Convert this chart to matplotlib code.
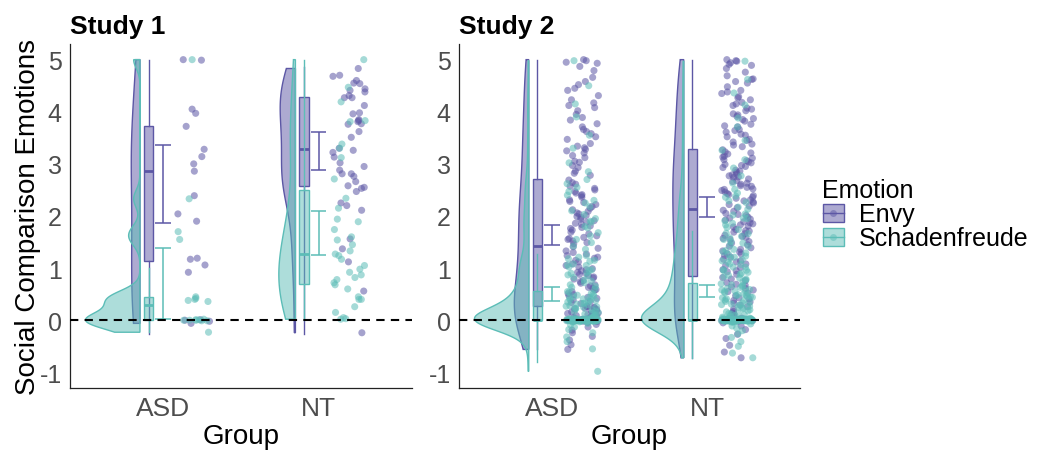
import numpy as np
import matplotlib
matplotlib.use('Agg')
import matplotlib.pyplot as plt
from matplotlib.colors import to_rgba
from matplotlib.patches import Patch
from matplotlib.lines import Line2D

plt.rcParams['font.family'] = ['Liberation Sans', 'DejaVu Sans']
plt.rcParams['axes.unicode_minus'] = False

groups = ['ASD', 'NT']
emotions = ['Envy', 'Schadenfreude']
colors = ['#5C57A5', '#5CBDB7']

#---- Study 1 raw points
s1_asd_envy = [5.0, 4.99, 3.97, 4.05, 3.72, 3.28, 3.14, 3.0, 2.86, 2.39, 2.04, 1.9,
               1.19, 1.17, 1.06, 0.92, -0.06, 0.0, -0.02, 0.01]
s1_asd_schad = [1.7, 1.55, 2.33, 0.38, 0.36, 0.4, 0.42, 0.45, 0.0, 0.01, 0.0, -0.01,
                0.02, 0.0, -0.01, 0.01, -0.23, 5.0]
s1_nt_envy = [4.83, 4.68, 4.7, 4.6, 4.54, 4.44, 4.41, 4.55, 4.38, 4.27, 4.31, 4.27,
              3.98, 3.96, 3.85, 3.77, 3.76, 3.83, 3.81, 3.51, 3.3, 3.26, 3.22, 3.13,
              3.02, 2.95, 2.88, 2.81, 2.81, 2.76, 2.58, 2.53, 2.55, 2.47, 2.66, 2.25,
              2.2, 2.11, 1.56, 1.37, 1.12, 0.56, -0.24, 4.12, 3.62]
s1_nt_schad = [4.47, 4.19, 3.81, 3.83, 3.3, 3.38, 3.12, 2.71, 2.34, 2.15, 1.94, 1.89,
               1.74, 1.6, 1.54, 1.45, 1.17, 1.27, 1.24, 0.98, 0.92, 0.87, 0.78, 0.72,
               0.82, 0.68, 0.4, 0.4, 0.45, 0.26, 0.15, 0.03, 0.02, 0.05, 5.0, 1.05,
               1.33, 0.6]

#---- Study 2 raw points (estimated, too dense to read one by one)
s2_asd_envy = [
    -0.56, -0.47, -0.38, -0.31, -0.24, -0.19, -0.13, -0.08, -0.04, -0.02,
    0.0, 0.01, -0.01, 0.02, 0.0, 0.03, -0.02, 0.01, 0.0, 0.02, -0.01, 0.0, 0.04, 0.01,
    0.07, 0.12, 0.09, 0.16, 0.21, 0.14, 0.26, 0.19, 0.23, 0.11, 0.27, 0.05, 0.18, 0.24,
    0.08, 0.22, 0.13, 0.25,
    0.32, 0.47, 0.39, 0.58, 0.66, 0.51, 0.74, 0.83, 0.61, 0.92, 0.36, 0.88, 1.02, 0.71,
    1.15, 0.97, 0.44, 1.24, 0.79, 1.08, 1.33, 0.55, 0.63, 1.19, 0.86, 1.38, 0.42, 0.95,
    1.27, 0.68, 1.05, 0.34, 1.12, 0.76, 1.41, 0.59, 0.99, 1.21, 0.81, 1.30, 0.49, 0.90,
    1.47, 1.62, 1.55, 1.78, 1.91, 1.69, 2.04, 1.84, 2.15, 1.52, 2.28, 1.97, 2.41, 1.73,
    2.09, 2.53, 1.88, 2.36, 1.59, 2.22, 2.64, 1.94, 2.47, 1.66, 2.12, 2.69, 1.81, 2.31,
    2.01, 1.49, 2.57, 2.18, 1.76, 2.44, 1.99, 2.61, 1.57, 2.26, 1.86, 2.39, 2.06, 2.50,
    2.78, 2.93, 3.05, 2.86, 3.21, 3.34, 3.12, 3.47, 2.97, 3.28, 3.58, 3.16, 3.71, 3.39,
    2.82, 3.84, 3.03, 3.62, 3.95, 3.25, 4.08, 3.52, 4.17, 3.31, 4.31, 3.77, 4.45, 3.89,
    4.58, 4.02, 4.41, 4.66, 4.23, 4.79, 4.87, 4.93, 4.98, 5.00, 4.95, 4.12, 3.66, 4.52]
s2_asd_schad = [
    -0.98, -0.55, -0.41, -0.32, -0.24, -0.18, -0.13, -0.09, -0.06, -0.03,
    0.0, 0.01, -0.01, 0.02, 0.0, -0.02, 0.03, 0.0, 0.01, -0.01, 0.0, 0.02, 0.0, -0.03, 0.01,
    0.0, 0.02, -0.01, 0.0, 0.04, 0.0, -0.02, 0.01, 0.0, 0.03, -0.01, 0.0, 0.02, 0.0, -0.02,
    0.01, 0.0, 0.03, -0.01, 0.0, 0.0, 0.01, -0.01, 0.02, 0.0, -0.02, 0.0, 0.03, 0.01, 0.0,
    -0.01, 0.02, 0.0, 0.01, -0.03, 0.0, 0.02, -0.01, 0.0, 0.01, 0.0, -0.02, 0.04, 0.0, 0.01,
    0.0, -0.01, 0.02, 0.0, 0.01, -0.02, 0.0, 0.03, 0.0, -0.01, 0.01, 0.0, 0.02, -0.01, 0.0,
    0.07, 0.12, 0.18, 0.1, 0.23, 0.28, 0.15, 0.33, 0.26, 0.38, 0.31, 0.43, 0.36, 0.47,
    0.41, 0.52, 0.45, 0.55, 0.5, 0.09, 0.2, 0.3, 0.4, 0.54, 0.14, 0.25, 0.35, 0.44,
    0.06, 0.17, 0.27, 0.39, 0.48, 0.22, 0.32,
    0.6, 0.65, 0.72, 0.68, 0.77, 0.82, 0.75, 0.87, 0.92, 0.85, 0.97, 1.02, 0.95, 1.08,
    1.13, 1.06, 1.18, 1.24, 0.63, 0.9,
    1.05, 1.21, 1.36, 1.49, 1.62, 1.77, 1.88, 2.03, 2.18, 2.47, 2.62, 1.15,
    1.42, 1.55, 1.68, 1.8, 1.95, 2.1, 2.25, 2.4, 2.55, 2.7, 2.85, 3.02, 3.3, 3.55, 3.9,
    4.15, 4.5, 2.3, 1.9, 4.98]
s2_nt_envy = [
    -0.72, -0.61, -0.48, -0.35, -0.27, -0.18, -0.11, -0.05,
    0.0, 0.01, -0.01, 0.02, 0.0, 0.03, -0.02, 0.0, 0.01, 0.04, -0.01, 0.0, 0.02, 0.0, 0.01,
    0.08, 0.17, 0.26, 0.12, 0.35, 0.43, 0.21, 0.52, 0.38, 0.61, 0.29, 0.69, 0.47, 0.76,
    0.55, 0.82, 0.33, 0.64, 0.14, 0.72, 0.58, 0.41, 0.79, 0.67,
    0.88, 0.93, 1.01, 0.97, 1.08, 1.14, 1.05, 1.21, 1.17, 1.28, 1.24, 1.33, 1.39, 1.31,
    1.45, 1.42, 1.51, 1.48, 1.57, 1.55, 1.63, 1.61, 1.69, 1.66, 1.74, 1.72, 1.79, 1.83,
    1.81, 1.87, 1.92, 1.89, 1.96, 2.01, 1.98, 2.05, 2.09, 2.03, 2.11, 1.12, 1.36, 1.59,
    1.85, 0.95, 1.27, 1.71, 1.94,
    2.16, 2.22, 2.19, 2.27, 2.31, 2.25, 2.36, 2.41, 2.34, 2.46, 2.43, 2.52, 2.49, 2.57,
    2.55, 2.61, 2.66, 2.63, 2.71, 2.68, 2.75, 2.79, 2.74, 2.84, 2.81, 2.88, 2.93, 2.86,
    2.97, 3.02, 2.95, 3.06, 3.11, 3.04, 3.15, 3.19, 3.13, 3.23, 3.27, 3.21, 2.39, 2.58,
    2.77, 2.99, 3.08, 2.29, 2.51,
    3.33, 3.38, 3.42, 3.36, 3.47, 3.52, 3.45, 3.57, 3.61, 3.55, 3.66, 3.71, 3.64, 3.76,
    3.82, 3.73, 3.87, 3.91, 3.85, 3.96, 4.02, 3.94, 4.07, 4.12, 4.05, 4.18, 4.23, 4.15,
    4.29, 4.35, 4.27, 4.41, 4.48, 4.55, 4.62, 4.58, 4.69, 4.76, 4.83, 4.89, 4.94, 4.98,
    5.0, 4.97, 4.91, 4.63, 4.38]
s2_nt_schad = [
    -0.72, -0.63, -0.5, -0.41, -0.33, -0.26, -0.2, -0.15, -0.11, -0.07, -0.04, -0.02,
    0.0, 0.01, -0.01, 0.02, 0.0, -0.02, 0.03, 0.0, 0.01, -0.01, 0.0, 0.02, 0.0, -0.03, 0.01,
    0.0, 0.02, -0.01, 0.0, 0.04, 0.0, -0.02, 0.01, 0.0, 0.03, -0.01, 0.0, 0.02, 0.0, -0.02,
    0.01, 0.0, 0.03, -0.01, 0.0, 0.0, 0.01, -0.01, 0.02, 0.0, -0.02, 0.0, 0.03, 0.01, 0.0,
    -0.01, 0.02, 0.0, 0.01, -0.03, 0.0, 0.02, -0.01, 0.0, 0.01, 0.0, -0.02, 0.04, 0.0, 0.01,
    0.0, -0.01, 0.02, 0.0, 0.01, -0.02, 0.0, 0.03, 0.0, -0.01, 0.01, 0.0, 0.02, -0.01, 0.0,
    0.01, 0.0, -0.01, 0.02, 0.0,
    0.06, 0.09, 0.13, 0.18, 0.11, 0.22, 0.27, 0.16, 0.31, 0.25, 0.36, 0.29, 0.41, 0.34,
    0.45, 0.39, 0.49, 0.43, 0.53, 0.47, 0.57, 0.51, 0.61, 0.55, 0.65, 0.59, 0.68, 0.63,
    0.7, 0.08, 0.2, 0.33, 0.44, 0.56, 0.67, 0.14, 0.24, 0.38, 0.48, 0.58, 0.12, 0.3, 0.46,
    0.74, 0.79, 0.83, 0.77, 0.88, 0.92, 0.86, 0.97, 1.02, 0.95, 1.07, 1.11, 1.16, 1.21,
    1.26, 1.31, 1.36, 1.42, 1.48, 1.55, 1.61, 1.67, 0.81, 0.9, 1.19,
    1.02, 1.14, 1.23, 1.34, 1.45, 1.58, 1.66, 1.74, 1.83, 1.91, 2.02, 2.17, 2.29, 2.44,
    1.29, 1.51, 1.96, 2.36, 0.96, 1.08,
    1.78, 1.86, 1.95, 2.04, 2.13, 2.26, 2.38, 2.51, 2.63, 2.77, 2.92, 3.08, 3.26, 3.45,
    3.71, 3.88, 4.13, 4.36, 4.62, 4.97]

#---- box stats [whislo, q1, med, q3, whishi], per group (ASD, NT)
s1_box_envy = [[-0.27, 1.14, 2.86, 3.72, 5.0], [-0.27, 2.58, 3.29, 4.28, 4.86]]
s1_box_schad = [[-0.23, 0.0, 0.29, 0.45, 1.0], [0.0, 0.7, 1.28, 2.5, 5.0]]
s2_box_envy = [[-0.56, 0.28, 1.43, 2.71, 5.0], [-0.72, 0.85, 2.13, 3.29, 5.0]]
s2_box_schad = [[-0.8, 0.0, 0.0, 0.56, 1.27], [-0.72, 0.0, 0.0, 0.71, 1.72]]

#---- mean CI [lo, hi]
s1_ci_envy = [[1.86, 3.37], [2.89, 3.61]]
s1_ci_schad = [[0.03, 1.38], [1.26, 2.09]]
s2_ci_envy = [[1.44, 1.83], [1.99, 2.37]]
s2_ci_schad = [[0.37, 0.63], [0.44, 0.68]]


#=======================================================#
def kde_nrd0(v):
    #> gaussian kde with R's default bandwidth, trimmed to data range
    v = np.asarray(v, float)
    n = len(v)
    sd = v.std(ddof=1)
    q75, q25 = np.percentile(v, [75, 25])
    lo = min(sd, (q75 - q25) / 1.34)
    if lo == 0:
        lo = sd
    bw = 0.9 * lo * n ** -0.2
    grid = np.linspace(v.min(), v.max(), 512)
    dens = np.exp(-0.5 * ((grid[:, None] - v[None, :]) / bw) ** 2).sum(1) / (n * bw * np.sqrt(2 * np.pi))
    return grid, dens


def jitter(n, seed):
    #> deterministic hash jitter in [-0.5, 0.5)
    i = np.arange(n)
    return (np.sin(i * 12.9898 + seed * 78.233) * 43758.5453) % 1.0 - 0.5


def drawPanel(ax, points, boxes, cis, title, seed):
    dens_all = {}
    for g in range(2):
        for e in range(2):
            dens_all[(g, e)] = kde_nrd0(points[g][e])
    dmax = max(d.max() for _, d in dens_all.values())

    for g in range(2):
        xc = g + 1
        #violins (left half)
        for e in range(2):
            grid, d = dens_all[(g, e)]
            flat = xc - 0.15
            xs = np.concatenate([flat - d / dmax * 0.35, [flat, flat]])
            ys = np.concatenate([grid, [grid[-1], grid[0]]])
            ax.fill(xs, ys, facecolor=to_rgba(colors[e], 0.5), edgecolor=colors[e], lw=1.0, zorder=2 + e)
        #boxes
        for e in range(2):
            lo, q1, med, q3, hi = boxes[e][g]
            st = [dict(whislo=lo, q1=q1, med=med, q3=q3, whishi=hi, fliers=[])]
            ax.bxp(st, positions=[xc - 0.095], widths=0.06, patch_artist=True, showcaps=False,
                   showfliers=False, manage_ticks=False,
                   boxprops=dict(facecolor=to_rgba(colors[e], 0.5), edgecolor=colors[e], lw=1.0),
                   whiskerprops=dict(color=colors[e], lw=1.0),
                   medianprops=dict(color=colors[e], lw=2.0), zorder=4 + e)
        #mean CI errorbars
        for e in range(2):
            lo, hi = cis[e][g]
            ax.vlines(xc, lo, hi, color=colors[e], lw=1.1, zorder=6 + e)
            ax.hlines([lo, hi], xc - 0.05, xc + 0.05, color=colors[e], lw=1.1, zorder=6 + e)
        #jittered points
        for e in range(2):
            y = np.asarray(points[g][e])
            x = xc + 0.195 + 0.21 * jitter(len(y), seed + 10 * g + e)
            ax.scatter(x, y, s=26, color=colors[e], alpha=0.55, edgecolors='none', zorder=8 + e)

    ax.axhline(0, color='black', lw=1.5, linestyle=(0, (4, 3)), zorder=12)
    ax.set_xlim(0.4, 2.6)
    ax.set_ylim(-1.3, 5.3)
    ax.set_xticks([1, 2])
    ax.set_xticklabels(groups)
    ax.set_yticks([-1, 0, 1, 2, 3, 4, 5])
    ax.tick_params(axis='both', length=0, colors='#4D4D4D')
    ax.tick_params(axis='x', labelsize=19, pad=6)
    ax.tick_params(axis='y', labelsize=18, pad=6)
    for s in ['top', 'right']:
        ax.spines[s].set_visible(False)
    for s in ['left', 'bottom']:
        ax.spines[s].set_linewidth(0.9)
        ax.spines[s].set_color('#222222')
    ax.set_xlabel('Group', fontsize=20, labelpad=2)
    ax.set_title(title, loc='left', fontweight='bold', fontsize=19, pad=8)


#=================================#
fig = plt.figure(figsize=(10.43, 4.52), dpi=100)
ax1 = fig.add_axes([70 / 1043, 63 / 452, 342 / 1043, 344 / 452])
ax2 = fig.add_axes([459 / 1043, 63 / 452, 341 / 1043, 344 / 452])

drawPanel(ax1, [[s1_asd_envy, s1_asd_schad], [s1_nt_envy, s1_nt_schad]],
          [s1_box_envy, s1_box_schad], [s1_ci_envy, s1_ci_schad], 'Study 1', 1)
drawPanel(ax2, [[s2_asd_envy, s2_asd_schad], [s2_nt_envy, s2_nt_schad]],
          [s2_box_envy, s2_box_schad], [s2_ci_envy, s2_ci_schad], 'Study 2', 5)
ax1.set_ylabel('Social Comparison Emotions', fontsize=20, labelpad=-1)

handles = []
for c in colors:
    handles.append((Patch(facecolor=to_rgba(c, 0.5), edgecolor=c, lw=1.0),
                    Line2D([0], [0], color=c, lw=1.0, marker='o', markersize=5,
                           markerfacecolor=to_rgba(c, 0.5), markeredgecolor='none')))
leg = fig.legend(handles, emotions, title='Emotion', loc='upper left',
                 bbox_to_anchor=(800 / 1043, 1 - 157 / 452), frameon=False,
                 fontsize=18, title_fontsize=18, alignment='left',
                 handlelength=0.85, handleheight=0.75, labelspacing=0.0, handletextpad=0.6)

fig.savefig('out.png', dpi=100)
